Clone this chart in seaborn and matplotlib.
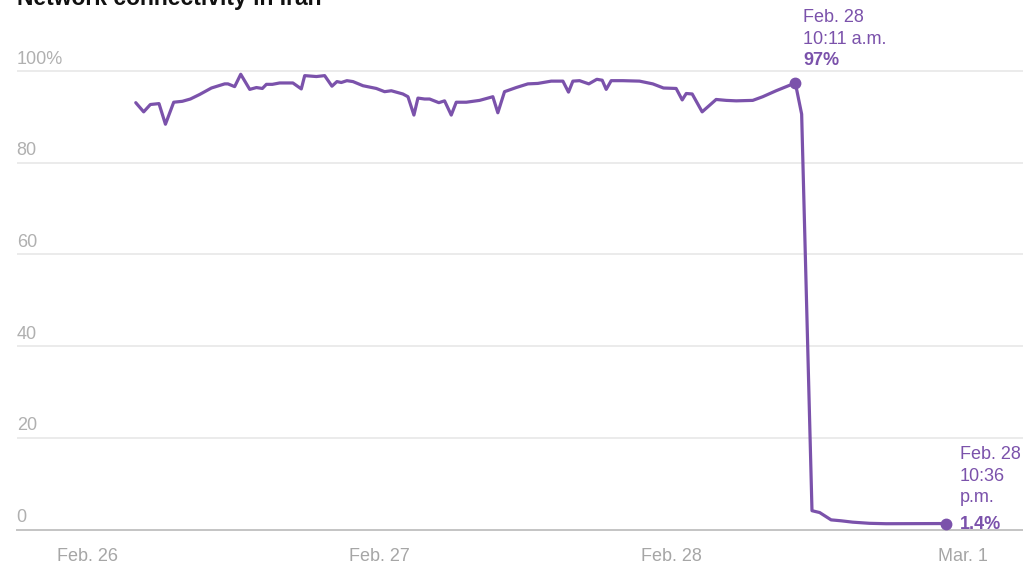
import matplotlib
matplotlib.use("Agg")
import matplotlib.pyplot as plt
import matplotlib.transforms as mtransforms
import seaborn as sns
import pandas as pd

# ---- data (hours since Feb. 26 00:00, connectivity %) ----
hours = [3.95, 4.60, 5.15, 5.86, 6.39, 7.07, 7.78, 8.44, 9.21, 10.17, 11.26, 11.53,
         12.08, 12.58, 13.32, 13.87, 14.36, 14.69, 15.18, 15.78, 16.87, 17.56, 17.84,
         18.80, 19.48, 20.08, 20.49, 20.85, 21.31, 21.81, 22.63, 23.73, 24.41, 24.96,
         25.91, 26.33, 26.82, 27.15, 27.70, 28.11, 28.87, 29.34, 29.89, 30.30, 31.13,
         32.22, 33.31, 33.72, 34.27, 35.23, 36.19, 37.01, 38.11, 39.07, 39.53, 39.89,
         40.44, 41.20, 41.86, 42.30, 42.63, 43.04, 44.00, 45.37, 46.46, 47.34, 48.38,
         48.88, 49.21, 49.70, 50.52, 51.67, 52.50, 53.32, 54.68, 55.50, 56.60, 58.18,
         58.70, 59.55, 60.18, 61.12, 61.94, 62.90, 64.27, 65.65, 70.60]
connectivity = [93.1, 91.1, 92.7, 92.9, 88.4, 93.2, 93.4, 93.9, 94.9, 96.3, 97.2, 97.2,
                96.6, 99.3, 96.0, 96.4, 96.2, 97.1, 97.1, 97.4, 97.4, 96.1, 99.0,
                98.8, 99.0, 96.7, 97.7, 97.5, 97.9, 97.7, 96.8, 96.2, 95.5, 95.7,
                95.0, 94.4, 90.4, 94.1, 93.9, 93.9, 93.1, 93.5, 90.4, 93.2, 93.2,
                93.6, 94.4, 90.9, 95.5, 96.4, 97.2, 97.3, 97.8, 97.8, 95.4, 97.8,
                97.9, 97.2, 98.2, 98.0, 96.0, 97.9, 97.9, 97.8, 97.2, 96.3, 96.2,
                93.7, 95.1, 95.0, 91.1, 93.8, 93.6, 93.5, 93.6, 94.4, 95.7, 97.4,
                90.6, 4.1, 3.7, 2.1, 1.9, 1.6, 1.35, 1.26, 1.3]

x_tick_hours = [0, 24, 48, 72]
x_tick_labels = ["Feb. 26", "Feb. 27", "Feb. 28", "Mar. 1"]
y_ticks = [0, 20, 40, 60, 80, 100]
y_tick_labels = ["0", "20", "40", "60", "80", "100%"]

peak_hour, peak_value = 58.18, 97.4
peak_lines = ["Feb. 28", "10:11 a.m.", "97%"]
last_hour, last_value = 70.60, 1.3
last_lines = ["Feb. 28", "10:36", "p.m.", "1.4%"]
title = "Network connectivity in Iran"

df = pd.DataFrame({"hours": hours, "connectivity": connectivity})

# ---- style ----
sns.set_style("white")
plt.rcParams["font.family"] = ["Liberation Sans", "DejaVu Sans"]

PURPLE = "#7B52AB"
W, H = 1023, 568
fig = plt.figure(figsize=(W / 100, H / 100), dpi=100)
ax = fig.add_axes([16.7 / W, 38.5 / H, (W - 16.7) / W, (H - 38.5 - 25.2) / H])

sns.lineplot(data=df, x="hours", y="connectivity", ax=ax, color=PURPLE,
             linewidth=2.3, solid_joinstyle="round", solid_capstyle="round",
             clip_on=False)

ax.set_xlim(-5.84, 76.9)
ax.set_ylim(0, 110)

# grid
ax.set_yticks(y_ticks)
ax.set_yticklabels([])
ax.tick_params(axis="y", length=0)
ax.yaxis.grid(True, color="#e8e8e8", linewidth=1.2)
ax.xaxis.grid(False)
for s in ["top", "left", "right"]:
    ax.spines[s].set_visible(False)
ax.spines["bottom"].set_color("#c4c4c4")
ax.spines["bottom"].set_linewidth(1.4)

ax.set_xticks(x_tick_hours)
ax.set_xticklabels(x_tick_labels)
ax.tick_params(axis="x", length=6, width=1.2, color="#c4c4c4",
               labelcolor="#a6a6a6", labelsize=13, pad=7)
ax.set_xlabel("")
ax.set_ylabel("")

# y labels above gridlines
for v, lab in zip(y_ticks, y_tick_labels):
    tr = mtransforms.offset_copy(
        mtransforms.blended_transform_factory(ax.transAxes, ax.transData),
        fig=fig, x=0, y=7.5, units="dots")
    ax.text(0, v, lab, transform=tr, ha="left", va="baseline",
            fontsize=13, color="#b0b0b0")

# markers
ax.plot([peak_hour, last_hour], [peak_value, last_value], "o", color=PURPLE,
        markersize=7.5, clip_on=False, zorder=5)

# annotations
peak_offsets = [60.5, 39.0, 18.0]
for txt, dy, bold in zip(peak_lines, peak_offsets, [False, False, True]):
    ax.annotate(txt, xy=(peak_hour, peak_value), xytext=(8, dy),
                textcoords="offset pixels", ha="left", va="baseline",
                fontsize=13, color=PURPLE, fontweight="bold" if bold else "normal",
                annotation_clip=False)

last_offsets = [65.0, 42.3, 21.3, -5.3]
for txt, dy, bold in zip(last_lines, last_offsets, [False, False, False, True]):
    ax.annotate(txt, xy=(last_hour, last_value), xytext=(13.5, dy),
                textcoords="offset pixels", ha="left", va="baseline",
                fontsize=13, color=PURPLE, fontweight="bold" if bold else "normal",
                annotation_clip=False)

fig.text(16.7 / W, 1 - 5 / H, title, ha="left", va="baseline",
         fontsize=16.5, fontweight="bold", color="#111111")

fig.savefig("out.png", dpi=100)
